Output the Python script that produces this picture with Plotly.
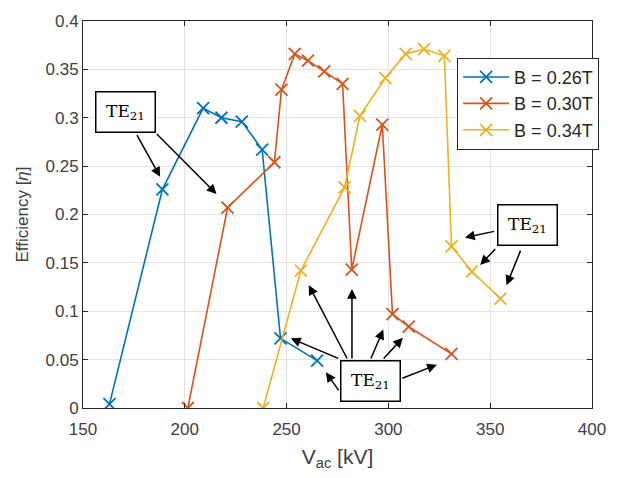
import plotly.graph_objects as go

# Data
v_026 = [163, 189, 209, 218, 228, 238, 247, 265]
e_026 = [0.004, 0.226, 0.310, 0.300, 0.296, 0.267, 0.072, 0.049]

v_030 = [201.5, 221, 244, 247.5, 254, 260.5, 268.5, 277.5, 282, 297, 302, 310, 331]
e_030 = [0.0, 0.207, 0.254, 0.329, 0.366, 0.359, 0.348, 0.335, 0.143, 0.293, 0.097, 0.084, 0.056]

v_034 = [238.5, 257, 278.5, 286, 298.5, 308.5, 317.5, 327.5, 331, 341, 355]
e_034 = [0.0, 0.142, 0.228, 0.302, 0.341, 0.366, 0.371, 0.364, 0.167, 0.141, 0.113]

series_names = ["B = 0.26T", "B = 0.30T", "B = 0.34T"]
series_colors = ["#0072BD", "#D95319", "#EDB120"]

x_ticks = [150, 200, 250, 300, 350, 400]
y_ticks = [0, 0.05, 0.1, 0.15, 0.2, 0.25, 0.3, 0.35, 0.4]
y_tick_text = ["0", "0.05", "0.1", "0.15", "0.2", "0.25", "0.3", "0.35", "0.4"]

# TE21 label boxes (data coords)
box_x = [170.7, 368.1, 291.1]
box_y = [0.306, 0.1888, 0.0275]

# arrows: (tail_x, tail_y, head_x, head_y)
arrow_tail_x = [176.1, 185.5, 352.7, 353.2, 365.2, 276.1, 280.1, 282.1, 291.1, 297.0, 306.1, 276.1]
arrow_tail_y = [0.2837, 0.2847, 0.1829, 0.1659, 0.1642, 0.0506, 0.0496, 0.0496, 0.0496, 0.0496, 0.0302, 0.0166]
arrow_head_x = [187.9, 215.6, 337.6, 345.1, 358.0, 252.1, 260.9, 282.1, 297.5, 307.1, 323.8, 269.3]
arrow_head_y = [0.2389, 0.2212, 0.1761, 0.1479, 0.1269, 0.072, 0.1269, 0.1229, 0.0811, 0.0726, 0.0448, 0.0369]

fig = go.Figure()
for vx, ey, name, col in zip([v_026, v_030, v_034], [e_026, e_030, e_034], series_names, series_colors):
    fig.add_trace(go.Scatter(
        x=vx, y=ey, mode="lines+markers", name=name,
        line=dict(color=col, width=1.6),
        marker=dict(symbol="x-thin", size=12, line=dict(color=col, width=1.8), color=col),
    ))

annotations = []
for tx, ty, hx, hy in zip(arrow_tail_x, arrow_tail_y, arrow_head_x, arrow_head_y):
    annotations.append(dict(
        x=hx, y=hy, ax=tx, ay=ty, xref="x", yref="y", axref="x", ayref="y",
        text="", showarrow=True, arrowhead=2, arrowsize=1.3, arrowwidth=1.5,
        arrowcolor="black", standoff=0, startstandoff=0,
    ))
for bx, by in zip(box_x, box_y):
    annotations.append(dict(
        x=bx, y=by, xref="x", yref="y", text="TE<sub>21</sub>", showarrow=False,
        font=dict(family="DejaVu Serif", size=17, color="black"),
        bgcolor="white", bordercolor="black", borderwidth=1.5,
        width=56, height=37, borderpad=1, align="center", valign="middle",
    ))

axis_common = dict(
    showgrid=True, gridcolor="#E3E3E3", gridwidth=1,
    showline=True, linecolor="#262626", linewidth=1, mirror="ticks",
    ticks="inside", ticklen=5, tickcolor="#262626",
    tickfont=dict(family="Liberation Sans, Arial", size=17, color="#404040"),
    zeroline=False,
)

fig.update_layout(
    width=618, height=478,
    margin=dict(l=83, r=16, t=15, b=70),
    paper_bgcolor="white", plot_bgcolor="white",
    xaxis=dict(range=[150, 400], tickvals=x_ticks, ticklabelstandoff=6,
               title=dict(text="V<sub>ac</sub> [kV]", font=dict(family="Liberation Sans, Arial", size=21, color="#404040"), standoff=10),
               **axis_common),
    yaxis=dict(range=[0, 0.4], tickvals=y_ticks, ticktext=y_tick_text,
               title=dict(text="Efficiency [<i>η</i>]", font=dict(family="Liberation Sans, Arial", size=17, color="#404040"), standoff=12),
               **axis_common),
    legend=dict(x=0.735, y=0.905, xanchor="left", yanchor="top",
                bgcolor="white", bordercolor="#262626", borderwidth=1,
                font=dict(family="Liberation Sans, Arial", size=18, color="#262626"),
                tracegroupgap=0, itemwidth=46),
    annotations=annotations,
    showlegend=True,
)

fig.write_html("out.html")
